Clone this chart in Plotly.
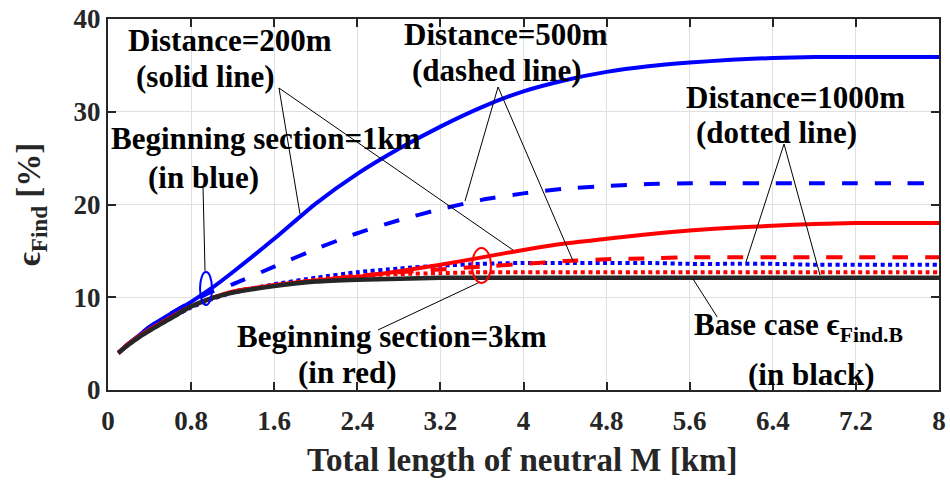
import plotly.graph_objects as go

# ---------------- data ----------------
M_km = [0.1, 0.2, 0.3, 0.4, 0.6, 0.8, 1.0, 1.2, 1.6, 2.0, 2.4, 2.8, 3.2, 3.6,
        4.0, 4.4, 4.8, 5.2, 5.6, 6.0, 6.4, 6.8, 7.2, 7.6, 8.0]

blue_200m = [4.0, 5.0, 5.9, 6.8, 8.2, 9.5, 11.0, 12.7, 16.3, 20.1, 23.3, 26.0, 28.4, 30.5,
             32.2, 33.4, 34.3, 34.9, 35.3, 35.6, 35.8, 35.9, 35.9, 35.9, 35.9]
blue_500m = [4.0, 5.0, 5.9, 6.8, 8.2, 9.5, 10.6, 11.4, 13.3, 15.2, 16.9, 18.3, 19.5, 20.5,
             21.2, 21.7, 22.0, 22.2, 22.3, 22.3, 22.3, 22.3, 22.3, 22.3, 22.3]
blue_1000m = [4.0, 4.9, 5.7, 6.4, 7.7, 8.9, 9.8, 10.5, 11.4, 12.1, 12.7, 13.1, 13.4, 13.6,
              13.7, 13.7, 13.7, 13.7, 13.6, 13.6, 13.6, 13.5, 13.5, 13.5, 13.5]
red_200m = [4.0, 5.0, 5.8, 6.5, 7.8, 9.0, 9.9, 10.6, 11.3, 11.8, 12.2, 12.8, 13.5, 14.3,
            15.1, 15.8, 16.3, 16.8, 17.2, 17.5, 17.7, 17.9, 18.0, 18.0, 18.0]
red_500m = [4.0, 5.0, 5.8, 6.5, 7.8, 9.0, 9.9, 10.6, 11.3, 11.8, 12.3, 12.7, 13.0, 13.3,
            13.6, 13.9, 14.1, 14.2, 14.3, 14.3, 14.3, 14.3, 14.3, 14.3, 14.3]
red_1000m = [4.0, 5.0, 5.8, 6.5, 7.8, 9.0, 9.9, 10.6, 11.3, 11.9, 12.3, 12.5, 12.6, 12.7,
             12.7, 12.7, 12.7, 12.7, 12.7, 12.7, 12.7, 12.7, 12.7, 12.7, 12.7]
base_case = [4.0, 4.9, 5.7, 6.4, 7.7, 9.0, 9.9, 10.5, 11.2, 11.7, 11.9, 12.0, 12.1, 12.1,
             12.1, 12.1, 12.1, 12.1, 12.1, 12.1, 12.1, 12.1, 12.1, 12.1, 12.1]

x_ticks = [0, 0.8, 1.6, 2.4, 3.2, 4.0, 4.8, 5.6, 6.4, 7.2, 8.0]
x_tick_labels = ["0", "0.8", "1.6", "2.4", "3.2", "4", "4.8", "5.6", "6.4", "7.2", "8"]
y_ticks = [0, 10, 20, 30, 40]

BLUE = "#0000ff"
RED = "#ff0000"
DARK = "#262626"
FONT = "Liberation Serif"

series = [
    (blue_200m, BLUE, "solid", 4),
    (blue_500m, BLUE, "16px,17px", 4),
    (blue_1000m, BLUE, "4px,3.5px", 4),
    (red_200m, RED, "solid", 4),
    (red_500m, RED, "16px,17px", 4),
    (red_1000m, RED, "4px,3.5px", 4),
    (base_case, DARK, "solid", 4.5),
]

fig = go.Figure()
for ys, col, dash, w in series:
    fig.add_trace(go.Scatter(x=M_km, y=ys, mode="lines",
                             line=dict(color=col, width=w, dash=dash, shape="spline", smoothing=0.6),
                             showlegend=False, hoverinfo="skip"))

# ---------------- annotations ----------------
texts = [
    ("Distance=200m", 1.175, 37.63, "center"),
    ("(solid line)", 0.934, 33.75, "center"),
    ("Distance=500m", 3.832, 38.38, "center"),
    ("(dashed line)", 3.745, 34.50, "center"),
    ("Beginning section=1km", 1.521, 27.17, "center"),
    ("(in blue)", 0.924, 22.96, "center"),
    ("Distance=1000m", 6.623, 31.59, "center"),
    ("(dotted line)", 6.431, 27.71, "center"),
    ("Beginning section=3km", 2.734, 5.82, "center"),
    ("(in red)", 2.301, 1.94, "center"),
    ("Base case \u03f5<sub>Find.B</sub>", 5.62, 6.8, "left"),
    ("(in black)", 6.777, 1.62, "center"),
]
annotations = []
for t, x, y, xa in texts:
    annotations.append(dict(text="<b>" + t + "</b>", x=x, y=y, xref="x", yref="y",
                            xanchor=xa, yanchor="middle", showarrow=False,
                            font=dict(family=FONT, size=31, color="#000000")))

# axis titles as annotations
annotations.append(dict(text="<b>Total length of neutral M [km]</b>", x=0.4985, y=-0.189,
                        xref="paper", yref="paper", xanchor="center", yanchor="middle",
                        showarrow=False, font=dict(family=FONT, size=33, color=DARK)))
annotations.append(dict(text="<b>\u03f5<sub>Find</sub> [%]</b>", x=-0.092, y=0.5,
                        xref="paper", yref="paper", xanchor="center", yanchor="middle",
                        textangle=-90, showarrow=False,
                        font=dict(family=FONT, size=33, color=DARK)))

pointer_lines = [
    ((1.646, 32.56), (1.848, 18.98)),
    ((1.646, 32.56), (3.899, 15.09)),
    ((0.915, 21.78), (0.934, 12.83)),
    ((3.755, 32.67), (3.437, 20.38)),
    ((3.755, 32.67), (4.477, 13.91)),
    ((6.508, 26.52), (6.142, 13.80)),
    ((6.508, 26.52), (6.854, 12.40)),
    ((5.632, 11.97), (5.865, 7.87)),
    ((2.599, 6.47), (3.581, 11.64)),
]
shapes = []
for (x0, y0), (x1, y1) in pointer_lines:
    shapes.append(dict(type="line", x0=x0, y0=y0, x1=x1, y1=y1, xref="x", yref="y",
                       line=dict(color="#000000", width=1)))
ellipses = [
    (0.886, 9.16, 1.001, 12.72, BLUE),
    (3.504, 11.54, 3.687, 15.31, RED),
]
for x0, y0, x1, y1, col in ellipses:
    shapes.append(dict(type="circle", x0=x0, y0=y0, x1=x1, y1=y1, xref="x", yref="y",
                       line=dict(color=col, width=2)))

axis_common = dict(showline=True, linecolor=DARK, linewidth=2, mirror="ticks",
                   ticks="inside", ticklen=8, tickwidth=2, tickcolor=DARK,
                   showgrid=True, gridcolor="#e0e0e0", gridwidth=1, zeroline=False,
                   automargin=False,
                   tickfont=dict(family=FONT, size=27, color=DARK))

fig.update_layout(
    width=950, height=481,
    margin=dict(l=108, r=11, t=19, b=91),
    plot_bgcolor="white", paper_bgcolor="white",
    xaxis=dict(range=[0, 8], tickvals=x_ticks, ticktext=["<b>%s</b>" % s for s in x_tick_labels],
               ticklabelstandoff=6, **axis_common),
    yaxis=dict(range=[0, 40], tickvals=y_ticks, ticktext=["<b>%d</b>" % v for v in y_ticks],
               **axis_common),
    annotations=annotations,
    shapes=shapes,
)

fig.write_html("out.html")
